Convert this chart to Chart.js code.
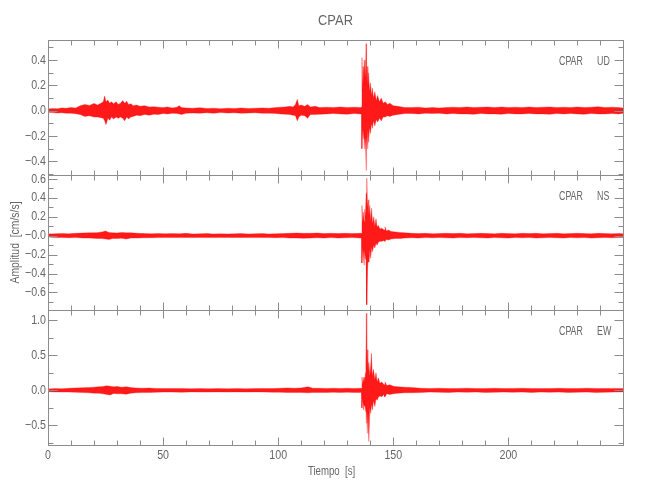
<!DOCTYPE html>
<html>
<head>
<meta charset="utf-8">
<script src="https://cdn.jsdelivr.net/npm/chart.js@4"></script>
<style>
  html, body { margin: 0; background: #fff; }
</style>
</head>
<body>
<canvas id="sismo" width="650" height="500"></canvas>
<script>
// envelope of each trace (max / min per time knot), cm/s/s
const timesUD = [
  0, 2, 4, 6, 8, 10, 12, 14, 16, 18,
  20, 21.5, 23, 24, 24.6, 25.2, 26, 26.8, 27.6, 28.5,
  29.6, 30.5, 31.5, 32.5, 33.3, 34.2, 35, 36, 37, 38.5,
  40, 42, 44, 46, 48, 50, 52, 54, 56, 57,
  58, 60, 63, 66, 69, 72, 75, 78, 81, 84,
  87, 90, 93, 96, 99, 101, 103, 105, 106.5, 107.5,
  108.3, 109, 110, 111.5, 112.8, 114, 116, 118, 121, 124,
  127, 130, 133, 135.8, 136.2, 136.4, 136.6, 136.9, 137.2, 137.4,
  137.7, 138.0, 138.2, 138.4, 138.7, 139.0, 139.3, 139.7, 140.1, 140.5,
  140.9, 141.4, 142.0, 142.6, 143.2, 144.0, 144.8, 145.6, 146.5, 147.5,
  148.5, 150, 152, 155, 158, 161, 164, 167, 170, 173,
  176, 179, 182, 185, 188, 191, 194, 197, 200, 203,
  206, 209, 212, 215, 218, 221, 224, 227, 230, 233,
  236, 239, 242, 245, 248, 249.8
];
const upperUD = [
  .014, .018, .016, .022, .02, .025, .022, .04, .05, .042,
  .058, .045, .06, .07, .116, .07, .085, .06, .07, .055,
  .07, .05, .06, .08, .06, .075, .05, .055, .04, .045,
  .035, .04, .03, .032, .028, .025, .03, .022, .028, .04,
  .025, .022, .02, .024, .018, .02, .016, .02, .018, .022,
  .018, .02, .022, .02, .025, .028, .03, .035, .03, .05,
  .09, .04, .045, .035, .05, .03, .035, .025, .028, .025,
  .03, .025, .028, .025, .03, .42, .15, .35, .20, .40,
  .25, .33, .53, .20, .35, .18, .30, .15, .22, .12,
  .18, .10, .15, .08, .12, .07, .10, .06, .07, .05,
  .06, .04, .035, .025, .025, .028, .022, .025, .022, .025,
  .028, .025, .03, .025, .028, .03, .025, .03, .025, .028,
  .025, .03, .025, .028, .03, .025, .028, .025, .03, .025,
  .028, .032, .025, .028, .025, .022
];
const lowerUD = [
  -.012, -.015, -.018, -.016, -.02, -.02, -.024, -.03, -.045, -.04,
  -.05, -.05, -.055, -.06, -.08, -.11, -.06, -.075, -.05, -.065,
  -.05, -.06, -.05, -.06, -.08, -.05, -.065, -.05, -.045, -.035,
  -.04, -.03, -.035, -.028, -.03, -.022, -.025, -.02, -.022, -.025,
  -.03, -.02, -.018, -.02, -.016, -.02, -.015, -.018, -.016, -.02,
  -.018, -.016, -.02, -.02, -.022, -.025, -.028, -.03, -.035, -.04,
  -.08, -.05, -.035, -.04, -.06, -.03, -.03, -.028, -.025, -.022,
  -.025, -.028, -.022, -.025, -.03, -.30, -.12, -.22, -.15, -.30,
  -.20, -.28, -.47, -.20, -.30, -.15, -.25, -.13, -.18, -.10,
  -.14, -.08, -.12, -.07, -.09, -.06, -.08, -.05, -.05, -.04,
  -.045, -.035, -.03, -.022, -.022, -.025, -.02, -.022, -.02, -.025,
  -.022, -.025, -.025, -.028, -.022, -.025, -.025, -.028, -.022, -.025,
  -.025, -.022, -.025, -.025, -.028, -.022, -.025, -.022, -.025, -.028,
  -.022, -.025, -.025, -.022, -.025, -.02
];

const timesNS = [
  0, 3, 6, 9, 12, 15, 18, 21, 23.5, 25,
  26.5, 28, 30, 32, 34, 36, 39, 42, 45, 48,
  51, 54, 57, 60, 63, 66, 69, 72, 75, 78,
  81, 84, 87, 90, 93, 96, 99, 102, 105, 108,
  111, 114, 117, 120, 123, 126, 129, 132, 135.8, 136.2,
  136.4, 136.7, 137.0, 137.3, 137.6, 137.9, 138.2, 138.5, 138.8, 139.1,
  139.4, 139.8, 140.2, 140.6, 141.0, 141.5, 142.0, 142.5, 143.0, 143.5,
  144.2, 145, 146, 146.4, 147, 148, 149, 151, 153, 155,
  158, 161, 164, 167, 170, 173, 176, 179, 182, 185,
  188, 191, 194, 197, 200, 203, 206, 209, 212, 215,
  218, 221, 224, 227, 230, 233, 236, 239, 242, 245,
  248, 249.8
];
const upperNS = [
  .018, .02, .022, .02, .025, .028, .03, .032, .04, .05,
  .035, .03, .028, .035, .03, .03, .025, .022, .02, .022,
  .02, .022, .02, .025, .018, .02, .022, .018, .02, .018,
  .02, .022, .018, .02, .022, .018, .02, .022, .025, .028,
  .025, .025, .028, .022, .025, .022, .025, .022, .025, .025,
  .32, .12, .25, .15, .28, .20, .45, .61, .30, .38,
  .20, .32, .15, .29, .12, .20, .10, .18, .09, .11,
  .07, .08, .06, .095, .05, .06, .045, .04, .035, .03,
  .025, .022, .025, .02, .022, .025, .022, .025, .02, .022,
  .025, .022, .02, .025, .022, .02, .025, .022, .025, .02,
  .022, .025, .02, .022, .025, .022, .02, .025, .022, .02,
  .022, .02
];
const lowerNS = [
  -.015, -.018, -.02, -.022, -.02, -.025, -.025, -.03, -.03, -.035,
  -.04, -.03, -.03, -.028, -.035, -.025, -.025, -.022, -.022, -.02,
  -.02, -.018, -.02, -.02, -.02, -.018, -.02, -.02, -.018, -.018,
  -.02, -.018, -.02, -.02, -.02, -.02, -.022, -.02, -.025, -.025,
  -.028, -.025, -.022, -.025, -.02, -.025, -.022, -.02, -.025, -.025,
  -.29, -.12, -.20, -.31, -.15, -.25, -.20, -.73, -.38, -.20,
  -.28, -.15, -.24, -.12, -.17, -.10, -.13, -.08, -.10, -.07,
  -.06, -.06, -.05, -.06, -.04, -.045, -.035, -.03, -.03, -.025,
  -.022, -.025, -.02, -.022, -.02, -.022, -.025, -.02, -.022, -.02,
  -.022, -.025, -.02, -.022, -.025, -.02, -.022, -.02, -.025, -.022,
  -.02, -.022, -.025, -.02, -.022, -.02, -.025, -.022, -.02, -.022,
  -.02, -.018
];

const timesEW = [
  0, 3, 6, 9, 12, 15, 18, 20, 22, 24,
  25.5, 27, 28.5, 30, 32, 34, 36, 38, 41, 44,
  47, 50, 54, 58, 62, 66, 70, 74, 78, 82,
  86, 90, 94, 98, 101, 104, 107, 110, 113, 115,
  118, 121, 124, 127, 130, 133, 135.8, 136.2, 136.4, 136.7,
  137.0, 137.3, 137.6, 137.9, 138.1, 138.3, 138.5, 138.7, 139.0, 139.4,
  139.8, 140.2, 140.5, 140.9, 141.4, 142.0, 142.5, 143.0, 143.5, 144.2,
  145, 146, 146.4, 147.2, 148.5, 150, 152, 155, 158, 162,
  166, 170, 174, 178, 182, 186, 190, 194, 198, 202,
  206, 210, 214, 218, 222, 226, 230, 234, 238, 242,
  246, 249.8
];
const upperEW = [
  .02, .025, .022, .03, .035, .038, .04, .045, .05, .055,
  .065, .06, .05, .055, .045, .05, .04, .035, .03, .032,
  .028, .025, .028, .025, .022, .025, .022, .025, .022, .025,
  .022, .025, .028, .025, .03, .035, .03, .035, .05, .03,
  .03, .028, .03, .028, .03, .028, .03, .03, .19, .08,
  .15, .19, .10, .25, .40, 1.10, .30, .58, .25, .40,
  .20, .35, .53, .20, .30, .15, .25, .12, .18, .10,
  .12, .08, .12, .07, .08, .06, .05, .045, .04, .03,
  .028, .03, .025, .028, .03, .025, .028, .03, .025, .028,
  .03, .025, .028, .025, .03, .028, .025, .03, .028, .025,
  .028, .025
];
const lowerEW = [
  -.02, -.022, -.025, -.025, -.028, -.032, -.035, -.04, -.04, -.05,
  -.06, -.065, -.045, -.05, -.05, -.055, -.04, -.035, -.032, -.03,
  -.028, -.025, -.025, -.028, -.022, -.025, -.025, -.022, -.025, -.022,
  -.025, -.022, -.025, -.028, -.028, -.03, -.03, -.03, -.035, -.03,
  -.03, -.03, -.028, -.03, -.028, -.03, -.03, -.03, -.25, -.10,
  -.28, -.15, -.22, -.30, -.20, -.47, -.25, -.61, -.30, -.73,
  -.25, -.33, -.20, -.28, -.15, -.23, -.12, -.14, -.10, -.08,
  -.09, -.06, -.09, -.05, -.06, -.05, -.04, -.035, -.035, -.03,
  -.025, -.028, -.03, -.025, -.028, -.025, -.03, -.028, -.025, -.028,
  -.025, -.03, -.025, -.028, -.025, -.03, -.028, -.025, -.03, -.028,
  -.025, -.022
];

const station = "CPAR";
const xTitle = "Tiempo  [s]";
const yTitle = "Amplitud  [cm/s/s]";

const FONT = "'Liberation Sans', Arial, sans-serif";
const FRAME = "#8c8c8c";
const INK = "#666666";

const panels = [
  { id: "yUD", comp: "UD", t: timesUD, up: upperUD, lo: lowerUD, min: -0.508, max: 0.559, step: 0.2, minor: 0.1, weight: 3 },
  { id: "yNS", comp: "NS", t: timesNS, up: upperNS, lo: lowerNS, min: -0.786, max: 0.642, step: 0.2, minor: 0.1, weight: 2, negZero: true },
  { id: "yEW", comp: "EW", t: timesEW, up: upperEW, lo: lowerEW, min: -0.78, max: 1.147, step: 0.5, minor: 0.25, weight: 1 }
];

function fmt(v, p) {
  if (Math.abs(v) < 1e-9) return p.negZero ? "\u22120.0" : "0.0";
  return v.toFixed(1).replace("-", "\u2212");
}

function steps(min, max, step) {
  const out = [];
  for (let k = Math.ceil(min / step - 1e-9); k * step <= max + 1e-9; k++) out.push(k * step);
  return out;
}
function isMajor(v, major) {
  const r = v / major;
  return Math.abs(r - Math.round(r)) < 1e-6;
}

// narrow, thin lettering like the vector font of the original
function say(ctx, str, x, y, size, sx, align, angle) {
  ctx.save();
  ctx.translate(x, y);
  if (angle) ctx.rotate(angle);
  ctx.scale(sx, 1);
  ctx.font = size + "px " + FONT;
  ctx.textAlign = align;
  ctx.textBaseline = "middle";
  ctx.fillText(str, 0, 0);
  ctx.restore();
}

const datasets = [];
panels.forEach(p => {
  datasets.push({
    data: p.t.map((t, i) => ({ x: t, y: p.up[i] })),
    yAxisID: p.id,
    fill: "+1",
    backgroundColor: "rgba(255,0,0,0.9)",
    borderColor: "rgba(255,0,0,0.3)",
    borderWidth: 1,
    pointRadius: 0
  });
  datasets.push({
    data: p.t.map((t, i) => ({ x: t, y: p.lo[i] })),
    yAxisID: p.id,
    fill: false,
    borderColor: "rgba(255,0,0,0.3)",
    borderWidth: 1,
    pointRadius: 0
  });
});

const scales = {
  x: {
    type: "linear", position: "bottom", min: 0, max: 249.8,
    grid: { display: false, drawTicks: false },
    border: { display: false },
    ticks: { display: false },
    afterBuildTicks: s => { s.ticks = steps(0, s.max, 50).map(v => ({ value: v })); },
    afterFit: s => { s.height = 55; }
  }
};
panels.forEach(p => {
  scales[p.id] = {
    type: "linear", position: "left", stack: "comp", stackWeight: 1, weight: p.weight,
    min: p.min, max: p.max,
    grid: { display: false, drawTicks: false },
    border: { display: false },
    ticks: { display: false },
    afterBuildTicks: s => { s.ticks = steps(p.min, p.max, p.step).map(v => ({ value: v })); },
    afterFit: s => { s.width = 48; }
  };
});

// IDL-style boxes with inward ticks on all four sides, plus tick labels
const frames = {
  id: "frames",
  afterDatasetsDraw(chart) {
    const ctx = chart.ctx;
    const x = chart.scales.x;
    ctx.save();
    ctx.strokeStyle = FRAME;
    ctx.lineWidth = 1;
    const seg = (a, b, c, d) => { ctx.beginPath(); ctx.moveTo(a, b); ctx.lineTo(c, d); ctx.stroke(); };
    const L = Math.round(x.left) + 0.5, R = Math.round(x.right) + 0.5;
    panels.forEach(p => {
      const y = chart.scales[p.id];
      const T = Math.round(y.top) + 0.5, B = Math.round(y.bottom) + 0.5;
      ctx.strokeRect(L, T, R - L, B - T);
      steps(0, x.max, 10).forEach(v => {
        const px = Math.round(x.getPixelForValue(v)) + 0.5;
        const len = isMajor(v, 50) ? 8 : 5;
        seg(px, T, px, T + len);
        seg(px, B, px, B - len);
      });
      steps(p.min, p.max, p.minor).forEach(v => {
        const py = Math.round(y.getPixelForValue(v)) + 0.5;
        const len = isMajor(v, p.step) ? 9 : 5;
        seg(L, py, L + len, py);
        seg(R, py, R - len, py);
      });
      ctx.fillStyle = INK;
      y.ticks.forEach(t => say(ctx, fmt(t.value, p), x.left - 2, y.getPixelForValue(t.value), 13, 0.82, "right"));
    });
    ctx.fillStyle = INK;
    x.ticks.forEach(t => say(ctx, String(t.value), x.getPixelForValue(t.value), x.top + 10, 13, 0.82, "center"));
    ctx.restore();
  }
};

const labels = {
  id: "labels",
  afterDraw(chart) {
    const ctx = chart.ctx;
    const x = chart.scales.x;
    const cx = (x.left + x.right) / 2;
    ctx.save();
    ctx.fillStyle = INK;
    say(ctx, station, cx, 21, 15, 0.86, "center");
    say(ctx, xTitle, cx - 4, 471, 13, 0.74, "center");
    panels.forEach(p => {
      const y = chart.scales[p.id];
      say(ctx, station, x.right - 64, y.top + 21, 13, 0.68, "left");
      say(ctx, p.comp, x.right - 26, y.top + 21, 13, 0.68, "left");
    });
    const mid = chart.scales.yNS;
    say(ctx, yTitle, 15, (mid.top + mid.bottom) / 2, 13, 0.8, "center", -Math.PI / 2);
    ctx.restore();
  }
};

Chart.defaults.font.family = FONT;

new Chart(document.getElementById("sismo"), {
  type: "line",
  data: { datasets },
  options: {
    responsive: false,
    animation: false,
    devicePixelRatio: 1,
    layout: { padding: { left: 0, right: 27, top: 40, bottom: 0 } },
    plugins: { legend: { display: false }, tooltip: { enabled: false }, title: { display: false } },
    elements: { line: { tension: 0 } },
    scales
  },
  plugins: [frames, labels]
});
</script>
</body>
</html>
